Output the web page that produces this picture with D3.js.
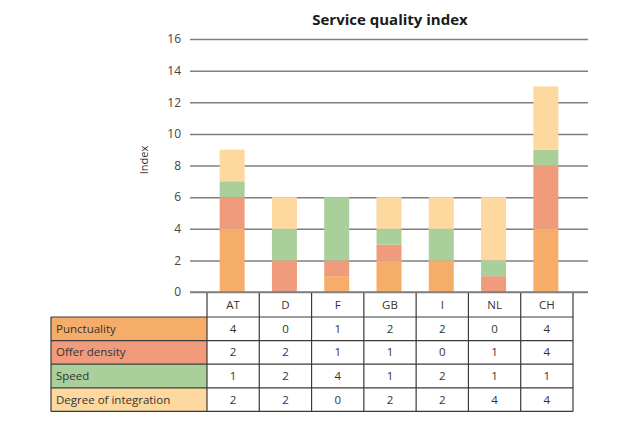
<!DOCTYPE html>
<html>
<head>
<meta charset="utf-8">
<script src="https://cdn.jsdelivr.net/npm/d3@7"></script>
<style>
  body { margin: 0; background: #fff; }
  text { font-family: "Open Sans", "Noto Sans", sans-serif; fill: #333; }
</style>
</head>
<body>
<script>
// Service quality index: stacked bars with a data table below

var countries = ["AT", "D", "F", "GB", "I", "NL", "CH"];
var seriesNames = ["Punctuality", "Offer density", "Speed", "Degree of integration"];
var punctuality = [4, 0, 1, 2, 2, 0, 4];
var offerDensity = [2, 2, 1, 1, 0, 1, 4];
var speed = [1, 2, 4, 1, 2, 1, 1];
var integration = [2, 2, 0, 2, 2, 4, 4];
var yTicks = [0, 2, 4, 6, 8, 10, 12, 14, 16];
var colors = ["#f6ad6a", "#f09b7b", "#a9d09b", "#fdd89f"];

var width = 640,
    height = 423;

var series = [punctuality, offerDensity, speed, integration];

// one row object per country, keyed by series name
var rows = countries.map(function(c, i) {
  var r = { country: c };
  seriesNames.forEach(function(s, k) { r[s] = series[k][i]; });
  return r;
});

var stack = d3.stack().keys(seriesNames)(rows);

var svg = d3.select("body").append("svg")
    .attr("width", width)
    .attr("height", height);

var x = d3.scaleBand()
    .domain(countries)
    .range([207, 573]);

var y = d3.scaleLinear()
    .domain([0, 16])
    .range([292, 39]);

// gridlines + y labels
var yAxis = d3.axisLeft(y)
    .tickValues(yTicks)
    .tickSize(-398)
    .tickPadding(10);

var gy = svg.append("g")
    .attr("transform", "translate(190,0)")
    .call(yAxis);

gy.select(".domain").remove();
gy.selectAll(".tick line")
    .attr("stroke", "#7f7f7f")
    .attr("stroke-width", 1.5);
gy.selectAll(".tick text")
    .attr("font-size", 12)
    .attr("x", -9)
    .style("fill", "#444");

svg.append("text")
    .attr("transform", "translate(148,160) rotate(-90)")
    .attr("text-anchor", "middle")
    .attr("font-size", 11)
    .text("Index");

svg.append("text")
    .attr("x", 390)
    .attr("y", 25)
    .attr("text-anchor", "middle")
    .attr("font-size", 15)
    .attr("font-weight", "bold")
    .style("fill", "#1a1a1a")
    .text("Service quality index");

// stacked bars
var barW = 25;
svg.append("g")
  .selectAll("g")
  .data(stack)
  .join("g")
    .attr("fill", function(d, i) { return colors[i]; })
  .selectAll("rect")
  .data(function(d) { return d; })
  .join("rect")
    .attr("x", function(d) { return x(d.data.country) + (x.bandwidth() - barW) / 2 - 1; })
    .attr("y", function(d) { return y(d[1]); })
    .attr("width", barW)
    .attr("height", function(d) { return y(d[0]) - y(d[1]); });

// baseline drawn over gridline at 0
svg.append("line")
    .attr("x1", 190).attr("x2", 588)
    .attr("y1", y(0)).attr("y2", y(0))
    .attr("stroke", "#7f7f7f")
    .attr("stroke-width", 1.5);

// ---- data table ----
var tableTop = 293,
    headH = 24,
    rowH = 23.6,
    labelX0 = 51,
    labelX1 = 207,
    tableRight = 573;

var table = svg.append("g");

// header: country names
table.selectAll(".head")
  .data(countries)
  .join("text")
    .attr("class", "head")
    .attr("x", function(d) { return x(d) + x.bandwidth() / 2; })
    .attr("y", tableTop + headH / 2 + 4)
    .attr("text-anchor", "middle")
    .attr("font-size", 11.5)
    .text(function(d) { return d; });

// label cells with series colour
seriesNames.forEach(function(name, k) {
  var ry = tableTop + headH + k * rowH;
  table.append("rect")
      .attr("x", labelX0)
      .attr("y", ry)
      .attr("width", labelX1 - labelX0)
      .attr("height", rowH)
      .attr("fill", colors[k]);
  table.append("text")
      .attr("x", labelX0 + 5)
      .attr("y", ry + rowH / 2 + 4)
      .attr("font-size", 11.5)
      .text(name);
  table.selectAll(".v" + k)
    .data(series[k])
    .join("text")
      .attr("x", function(d, i) { return x(countries[i]) + x.bandwidth() / 2; })
      .attr("y", ry + rowH / 2 + 4)
      .attr("text-anchor", "middle")
      .attr("font-size", 11.5)
      .text(function(d) { return d; });
});

var lineColor = "#3a3a3a";
var bottom = tableTop + headH + seriesNames.length * rowH;

// horizontal rules
d3.range(seriesNames.length + 1).forEach(function(k) {
  var ly = tableTop + headH + k * rowH;
  table.append("line")
      .attr("x1", labelX0).attr("x2", tableRight)
      .attr("y1", ly).attr("y2", ly)
      .attr("stroke", lineColor)
      .attr("stroke-width", 1.2);
});

// vertical rules: column boundaries from axis down, label column left edge
var bounds = countries.map(function(c) { return x(c); }).concat([tableRight]);
bounds.forEach(function(bx) {
  table.append("line")
      .attr("x1", bx).attr("x2", bx)
      .attr("y1", tableTop).attr("y2", bottom)
      .attr("stroke", lineColor)
      .attr("stroke-width", 1.2);
});
table.append("line")
    .attr("x1", labelX0).attr("x2", labelX0)
    .attr("y1", tableTop + headH).attr("y2", bottom)
    .attr("stroke", lineColor)
    .attr("stroke-width", 1.2);
</script>
</body>
</html>
